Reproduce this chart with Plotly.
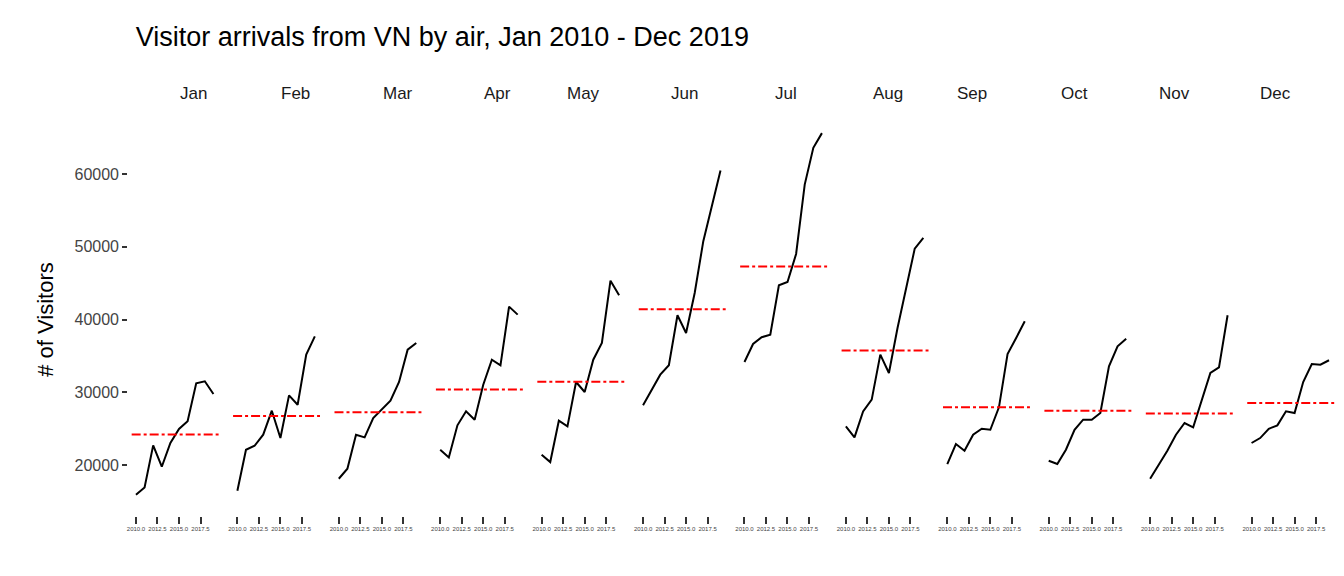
import plotly.graph_objects as go

months = ["Jan","Feb","Mar","Apr","May","Jun","Jul","Aug","Sep","Oct","Nov","Dec"]
years = [2010,2011,2012,2013,2014,2015,2016,2017,2018,2019]
jan = [15920,16930,22710,19770,23030,24960,26010,31240,31510,29760]
feb = [16470,22100,22650,24170,27470,23710,29580,28290,35170,37690]
mar = [18120,19490,24170,23800,26460,27600,28840,31410,35860,36780]
apr = [22100,21050,25460,27380,26230,31040,34480,33710,41770,40670]
may = [21420,20410,26090,25320,31410,30040,34480,36780,45340,43330]
jun = [28210,30360,32420,33710,40580,38150,43650,50760,55790,60470]
jul = [34160,36640,37560,37920,44710,45160,49010,58540,63590,65610]
aug = [25320,23810,27380,28980,35170,32650,38840,44340,49740,51210]
sep = [20140,22890,21970,24170,24990,24850,27930,35260,37460,39760]
oct_ = [20590,20140,22100,24850,26230,26230,27150,33570,36320,37370]
nov = [18120,19960,21970,24170,25780,25180,28840,32650,33430,40580]
dec = [23030,23710,24990,25460,27380,27150,31410,33890,33790,34400]
series = [jan,feb,mar,apr,may,jun,jul,aug,sep,oct_,nov,dec]
tickvals = [2010.0,2012.5,2015.0,2017.5]
ticktext = ["2010.0","2012.5","2015.0","2017.5"]

fig = go.Figure()
n = 12
w = 1.0 / n
xr = [2009.1, 2020.6]
for i, (m, vals) in enumerate(zip(months, series)):
    ax = "" if i == 0 else str(i + 1)
    fig.add_trace(go.Scatter(x=years, y=vals, mode="lines", line=dict(color="black", width=2),
                             xaxis="x" + ax, yaxis="y", showlegend=False))
    mean = sum(vals) / len(vals)
    fig.add_trace(go.Scatter(x=[2009.5, 2019.6], y=[mean, mean], mode="lines",
                             line=dict(color="red", width=2, dash="dashdot"),
                             xaxis="x" + ax, yaxis="y", showlegend=False))
    fig.update_layout({("xaxis" + ax): dict(domain=[i * w + 0.001, (i + 1) * w - 0.001],
                                            range=xr, tickvals=tickvals, ticktext=ticktext,
                                            ticks="outside", ticklen=7, tickwidth=2, tickcolor="#333",
                                            tickfont=dict(size=6, color="#444"), showgrid=False,
                                            zeroline=False, showline=False, anchor="y")})
    fig.add_annotation(text=m, x=(i + 0.5) * w, y=1.0, xref="paper", yref="paper",
                       yanchor="bottom", yshift=18, showarrow=False,
                       font=dict(size=17, color="#1a1a1a"))

fig.update_layout(
    width=1344, height=576,
    margin=dict(l=119, r=8, t=115, b=68),
    plot_bgcolor="white", paper_bgcolor="white",
    font=dict(family="Liberation Sans, Arial, sans-serif"),
    title=dict(text="Visitor arrivals from VN by air, Jan 2010 - Dec 2019", x=0.095, xanchor="left",
               y=0.95, yanchor="middle", font=dict(size=27, color="black")),
    yaxis=dict(range=[13000, 67000], tickvals=[20000,30000,40000,50000,60000], tickformat="d",
               ticks="outside", ticklen=5, tickwidth=2, tickcolor="#333",
               tickfont=dict(size=16, color="#444"), showgrid=False, zeroline=False,
               title=dict(text="# of Visitors", font=dict(size=22, color="black"), standoff=14)),
)
fig.write_html("out.html")
